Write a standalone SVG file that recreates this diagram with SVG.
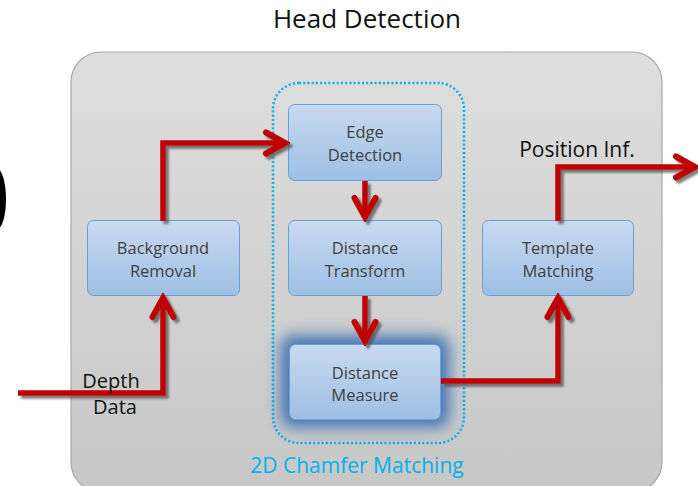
<svg xmlns="http://www.w3.org/2000/svg" width="698" height="486" viewBox="0 0 698 486">
<defs>
<linearGradient id="bgGrad" x1="0" y1="0" x2="0" y2="1">
<stop offset="0" stop-color="#dedede"/>
<stop offset="1" stop-color="#c7c7c7"/>
</linearGradient>
<linearGradient id="boxGrad" x1="0" y1="0" x2="0" y2="1">
<stop offset="0" stop-color="#c9daf0"/>
<stop offset="1" stop-color="#9dbfe5"/>
</linearGradient>
<filter id="shadow" x="-20%" y="-20%" width="140%" height="140%">
<feDropShadow dx="3" dy="3" stdDeviation="1" flood-color="#4a4a4a" flood-opacity="0.7"/>
</filter>
<filter id="glow" x="-50%" y="-50%" width="200%" height="200%">
<feGaussianBlur stdDeviation="8"/>
</filter>
<marker id="chev" markerUnits="userSpaceOnUse" viewBox="-26 -16 30 32" refX="0" refY="0" markerWidth="30" markerHeight="32" orient="auto">
<path d="M-20,-10.5 L-1,0 L-20,10.5" fill="none" stroke="#c00000" stroke-width="6" stroke-linecap="round" stroke-linejoin="miter"/>
</marker>
<style>
.box{fill:url(#boxGrad);stroke:#6a9fd6;stroke-width:1}
.lbl{font-family:"Open Sans","Liberation Sans",sans-serif;font-size:16.5px;fill:#404040;text-anchor:middle}
.conn{fill:none;stroke:#c00000;stroke-width:5.5;stroke-linejoin:miter}
.txt{font-family:"Open Sans","Liberation Sans",sans-serif;fill:#111111}
</style>
</defs>
<rect width="698" height="486" fill="#ffffff"/>
<ellipse cx="-3" cy="199" rx="9" ry="30" fill="#000000"/>
<text class="txt" x="367" y="28" font-size="26" text-anchor="middle">Head Detection</text>
<g id="container">
<rect x="71" y="52" width="591" height="440" rx="30" fill="url(#bgGrad)" stroke="#a8a8a8" stroke-width="1.2"/>
</g>
<g id="chamfer-group">
<rect x="273" y="83" width="191" height="360" rx="26" fill="none" stroke="#00b0f0" stroke-width="2.5" stroke-dasharray="2 2.2"/>
<text x="357" y="473" font-family="'Open Sans','Liberation Sans',sans-serif" font-size="21" fill="#00b0f0" text-anchor="middle">2D Chamfer Matching</text>
</g>
<g id="edge-detection">
<rect class="box" x="288.5" y="104.5" width="153" height="76" rx="6"/>
<text class="lbl" x="365" y="138">Edge</text>
<text class="lbl" x="365" y="161">Detection</text>
</g>
<g id="background-removal">
<rect class="box" x="87.5" y="220.5" width="152" height="75" rx="6"/>
<text class="lbl" x="163" y="254">Background</text>
<text class="lbl" x="163" y="277">Removal</text>
</g>
<g id="distance-transform">
<rect class="box" x="288.5" y="220.5" width="153" height="75" rx="6"/>
<text class="lbl" x="365" y="254">Distance</text>
<text class="lbl" x="365" y="277">Transform</text>
</g>
<g id="template-matching">
<rect class="box" x="482.5" y="220.5" width="151" height="75" rx="6"/>
<text class="lbl" x="558" y="254">Template</text>
<text class="lbl" x="558" y="277">Matching</text>
</g>
<g id="distance-measure">
<rect x="281" y="336" width="168" height="91" rx="10" fill="#2f68b0" opacity="0.9" filter="url(#glow)"/>
<rect class="box" x="289.5" y="344.5" width="151" height="75" rx="6"/>
<text class="lbl" x="365" y="379">Distance</text>
<text class="lbl" x="365" y="401">Measure</text>
</g>
<g id="connectors" filter="url(#shadow)">
<path class="conn" d="M163,221 V143 H286" marker-end="url(#chev)"/>
<path class="conn" d="M365,181 V218" marker-end="url(#chev)"/>
<path class="conn" d="M365,296 V342" marker-end="url(#chev)"/>
<path class="conn" d="M441,381 H558 V297" marker-end="url(#chev)"/>
<path class="conn" d="M558,221 V167 H696" marker-end="url(#chev)"/>
<path class="conn" d="M18,393 H163 V297" marker-end="url(#chev)"/>
</g>
<text class="txt" x="577" y="157" font-size="21" text-anchor="middle">Position Inf.</text>
<text class="txt" x="111" y="388" font-size="20" text-anchor="middle">Depth</text>
<text class="txt" x="115" y="414" font-size="20" text-anchor="middle">Data</text>
</svg>
